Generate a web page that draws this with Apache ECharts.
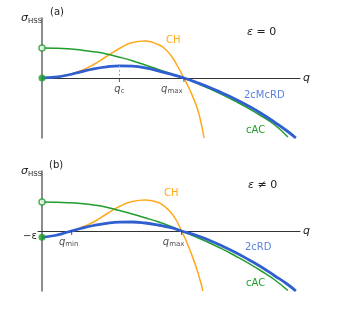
<!DOCTYPE html>
<html><head><meta charset="utf-8">
<script src="https://cdn.jsdelivr.net/npm/echarts@6/dist/echarts.min.js"></script>
<style>html,body{margin:0;padding:0;background:#fff}#c{width:339px;height:315px}</style>
</head><body><div id="c"></div>
<script>
// ---- Panel (a): epsilon = 0 ----
const cacA = [[0,3.0],[0.5,2.98],[1,2.92],[1.5,2.8],[2,2.63],[2.5,2.4],[3,2.08],[3.5,1.72],[4,1.3],[4.5,0.86],[5,0.43],[5.5,0],[6,-0.52],[6.5,-1.08],[7,-1.68],[7.5,-2.33],[8,-3.03],[8.5,-3.8],[9,-4.65],[9.53,-5.9]];
const rdA = [[0,0],[0.5,0.08],[1,0.3],[1.5,0.62],[2,0.92],[2.5,1.12],[3,1.22],[3.5,1.18],[4,1.02],[4.5,0.72],[5,0.38],[5.5,0],[6,-0.45],[6.5,-0.95],[7,-1.52],[7.5,-2.12],[8,-2.8],[8.5,-3.55],[9,-4.4],[9.5,-5.3],[9.84,-6.0]];
const chA = [[0,0],[0.5,0.07],[1,0.3],[1.5,0.72],[2,1.35],[2.5,2.15],[3,2.95],[3.5,3.55],[4,3.7],[4.5,3.35],[4.75,2.95],[5,2.25],[5.25,1.2],[5.5,0],[5.75,-1.3],[6,-2.9],[6.15,-4.3],[6.28,-6.0]];
const ticksA = [3, 5.5];
const tickSubsA = ['c', 'max'];
const peakA = [3, 1.22];
// ---- Panel (b): epsilon != 0 ----
const cacB = [[0,2.9],[0.5,2.88],[1,2.83],[1.5,2.74],[2,2.6],[2.5,2.38],[3,2.05],[3.5,1.7],[4,1.32],[4.5,0.92],[5,0.45],[5.41,0],[6,-0.62],[6.5,-1.2],[7,-1.82],[7.5,-2.5],[8,-3.22],[8.5,-4.0],[9,-4.85],[9.53,-5.95]];
const rdB = [[0,-0.63],[0.5,-0.45],[1,-0.1],[1.5,0.25],[2,0.55],[2.5,0.76],[3,0.88],[3.5,0.9],[4,0.8],[4.5,0.6],[5,0.33],[5.41,0],[6,-0.45],[6.5,-0.95],[7,-1.52],[7.5,-2.15],[8,-2.85],[8.5,-3.6],[9,-4.45],[9.5,-5.3],[9.84,-6.0]];
const chB = [[1.15,0],[1.5,0.32],[2,0.9],[2.5,1.7],[3,2.45],[3.5,2.95],[4,3.1],[4.5,2.85],[4.75,2.45],[5,1.85],[5.2,1.1],[5.41,0],[5.6,-1.05],[5.8,-2.35],[6,-3.8],[6.12,-4.85],[6.24,-6.0]];
const ticksB = [1.15, 5.41];
const tickSubsB = ['min', 'max'];
const startOpen = [[0,3.0],[0,2.9]];
const startFilled = [[0,0],[0,-0.63]];

const GREEN = '#1f9e2c', BLUE = '#2f5fd0', ORANGE = '#ffa81c', BLUE_T = '#5b82e0', INK = '#222';
const FONT = 'DejaVu Sans';
const labelShiftA = [0, -12], labelShiftB = [-3, -8];

function line(i, data, color, w, z) {
  return {type: 'line', xAxisIndex: i, yAxisIndex: i, data: data, smooth: 0.5,
    showSymbol: false, lineStyle: {color: color, width: w}, z: z, silent: true};
}
function ticks(i, vals, subs, shifts) {
  return {type: 'scatter', xAxisIndex: i, yAxisIndex: i, silent: true, z: 5,
    symbol: 'rect', symbolSize: [1, 4], symbolOffset: [0, 2], itemStyle: {color: '#333'},
    data: vals.map((v, k) => ({value: [v, 0], label: {offset: [shifts[k], 0]}})),
    label: {show: true, position: 'bottom', distance: 1,
      formatter: p => '{q|q}{s|' + subs[p.dataIndex] + '}',
      rich: {
        q: {fontFamily: FONT, fontStyle: 'italic', fontSize: 10, color: INK},
        s: {fontFamily: FONT, fontSize: 7, color: INK, padding: [5, 0, 0, 0]}
      }}
  };
}
function xAx(i, min) {
  return {
    gridIndex: i, type: 'value', min: min, max: 10,
    name: 'q', nameLocation: 'end', nameGap: 3,
    nameTextStyle: {fontFamily: FONT, fontStyle: 'italic', fontSize: 11, color: INK, verticalAlign: 'middle'},
    axisLine: {onZero: true, lineStyle: {color: '#333', width: 1}},
    axisTick: {show: false}, axisLabel: {show: false}, splitLine: {show: false}
  };
}
function yAx(i) {
  return {
    gridIndex: i, type: 'value', min: -6, max: 6,
    axisLine: {onZero: true, lineStyle: {color: '#666', width: 1.5}},
    axisTick: {show: false}, axisLabel: {show: false}, splitLine: {show: false}
  };
}

const chart = echarts.init(document.getElementById('c'), null, {renderer: 'canvas'});
const txt = (x, y, text, color, extra) => Object.assign({type: 'text', x: x, y: y,
  style: Object.assign({text: text, fill: color, fontFamily: FONT, fontSize: 10}, extra || {})});
const sigma = (x, y) => ({type: 'text', x: x, y: y, style: {
  text: '{a|σ}{b|HSS}', rich: {a: {fontFamily: FONT, fontStyle: 'italic', fontSize: 11, fill: INK},
  b: {fontFamily: FONT, fontSize: 7, fill: INK, padding: [6, 0, 0, 0]}}}});
const eps = (x, y, rest) => ({type: 'text', x: x, y: y, style: {
  text: '{a|ε}{b|' + rest + '}', rich: {a: {fontFamily: FONT, fontStyle: 'italic', fontSize: 11, fill: INK},
  b: {fontFamily: FONT, fontSize: 11, fill: INK}}}});

chart.setOption({
  animation: false,
  grid: [
    {left: 42, top: 18, width: 258, height: 120},
    {left: 38, top: 171, width: 262, height: 120}
  ],
  xAxis: [xAx(0, 0), xAx(1, -0.155)],
  yAxis: [yAx(0), yAx(1)],
  series: [
    line(0, chA, ORANGE, 1.5, 2),
    line(0, cacA, GREEN, 1.5, 3),
    Object.assign(line(0, rdA, BLUE, 2.8, 4), {markLine: {silent: true, symbol: 'none', label: {show: false},
      lineStyle: {color: '#aaa', type: [2, 2], width: 1},
      data: [[{coord: peakA}, {coord: [peakA[0], 0]}]]}}),
    line(1, chB, ORANGE, 1.5, 2),
    line(1, cacB, GREEN, 1.5, 3),
    line(1, rdB, BLUE, 2.8, 4),
    ticks(0, ticksA, tickSubsA, labelShiftA),
    ticks(1, ticksB, tickSubsB, labelShiftB),
    {type: 'scatter', xAxisIndex: 0, yAxisIndex: 0, data: [startOpen[0]], symbolSize: 6, z: 6,
      itemStyle: {color: '#fff', borderColor: GREEN, borderWidth: 1.5}},
    {type: 'scatter', xAxisIndex: 1, yAxisIndex: 1, data: [startOpen[1]], symbolSize: 6, z: 6,
      itemStyle: {color: '#fff', borderColor: GREEN, borderWidth: 1.5}},
    {type: 'scatter', xAxisIndex: 0, yAxisIndex: 0, data: [startFilled[0]], symbolSize: 7, z: 6,
      itemStyle: {color: GREEN}},
    {type: 'scatter', xAxisIndex: 1, yAxisIndex: 1, data: [startFilled[1]], symbolSize: 7, z: 6,
      itemStyle: {color: GREEN}}
  ],
  graphic: [
    txt(50, 7, '(a)', INK),
    sigma(21, 12),
    txt(166, 35, 'CH', ORANGE),
    eps(247, 27, ' = 0'),
    txt(244, 90, '2cMcRD', BLUE_T),
    txt(246, 125, 'cAC', GREEN),
    txt(49, 160, '(b)', INK),
    sigma(21, 165),
    txt(164, 188, 'CH', ORANGE),
    eps(248, 180, ' ≠ 0'),
    txt(245, 242, '2cRD', BLUE_T),
    txt(246, 278, 'cAC', GREEN),
    txt(23, 231, '−ε', INK)
  ]
});
</script></body></html>
